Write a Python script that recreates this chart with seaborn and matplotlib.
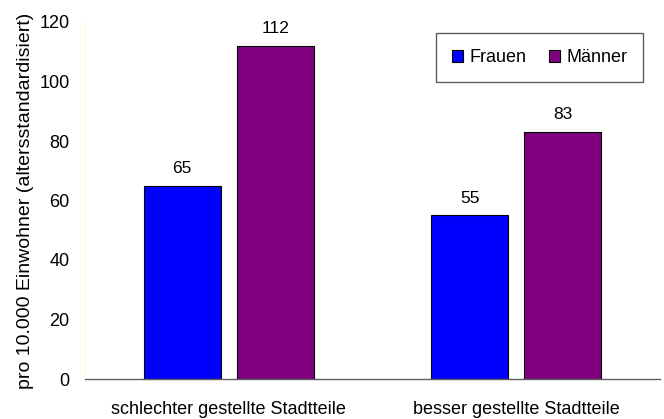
import matplotlib
matplotlib.use("Agg")
import matplotlib.pyplot as plt
import seaborn as sns
import pandas as pd

categories = ["schlechter gestellte Stadtteile", "besser gestellte Stadtteile"]
series_names = ["Frauen", "Männer"]
frauen = [65, 55]
maenner = [112, 83]
yticks = [0, 20, 40, 60, 80, 100, 120]
ylabel = "pro 10.000 Einwohner (altersstandardisiert)"

df = pd.DataFrame({
    "cat": categories * 2,
    "sex": [series_names[0]] * 2 + [series_names[1]] * 2,
    "val": frauen + maenner,
})

sns.set_style("white")
plt.rcParams["font.family"] = ["Liberation Sans", "DejaVu Sans"]
plt.rcParams["text.color"] = "black"
plt.rcParams["axes.labelcolor"] = "black"
plt.rcParams["xtick.color"] = "black"
plt.rcParams["ytick.color"] = "black"

FS = 13

fig = plt.figure(figsize=(6.64, 4.19), dpi=100)
ax = fig.add_axes([85 / 664, 1 - 379 / 419, (660 - 85) / 664, (379 - 22) / 419])

palette = {"Frauen": "#0000FF", "Männer": "#800080"}
sns.barplot(data=df, x="cat", y="val", hue="sex", order=categories,
            hue_order=series_names, palette=palette, width=0.648, gap=0.17,
            edgecolor="black", linewidth=0.8, saturation=1, ax=ax,
            errorbar=None)

for cont in ax.containers:
    ax.bar_label(cont, fmt="%d", padding=7, fontsize=FS - 0.5)

ax.set_xlim(-0.5, 1.5)
ax.set_ylim(0, 120)
ax.set_yticks(yticks)
ax.set_yticklabels([str(t) for t in yticks], fontsize=FS)
ax.set_xlabel("")
ax.set_ylabel(ylabel, fontsize=14, labelpad=4)
ax.set_xticks([0, 1])
ax.set_xticklabels(categories, fontsize=FS)
ax.tick_params(axis="x", length=0, pad=16)
ax.set_xticks([-0.5, 0.5, 1.5], minor=True)
ax.tick_params(axis="x", which="minor", direction="in", length=4, color="#404040", width=1)
ax.tick_params(axis="y", length=0, pad=11)

for s in ["top", "right"]:
    ax.spines[s].set_visible(False)
ax.spines["bottom"].set_color("#606060")
ax.spines["bottom"].set_linewidth(1.0)
ax.spines["left"].set_color("#FFFFC8")
ax.spines["left"].set_linewidth(1.0)

leg = ax.legend(loc="upper left", bbox_to_anchor=((436 - 85) / 575, 1 - (33 - 22) / 357),
                ncol=2, fontsize=FS, frameon=True, fancybox=False,
                handlelength=0.6, handleheight=0.6, handletextpad=0.35,
                columnspacing=1.25, borderpad=0.9, borderaxespad=0, title=None)
leg.get_frame().set_edgecolor("#333333")
leg.get_frame().set_linewidth(1.0)
for h in leg.legend_handles:
    h.set_edgecolor("black")
    h.set_linewidth(0.8)

fig.savefig("out.png", dpi=100)
